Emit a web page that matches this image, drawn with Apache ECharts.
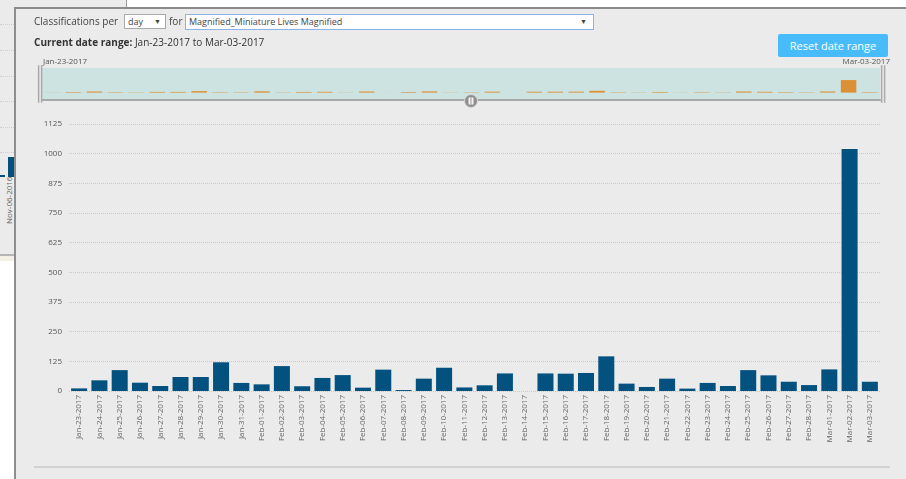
<!DOCTYPE html>
<html>
<head>
<meta charset="utf-8">
<script src="https://cdn.jsdelivr.net/npm/echarts@6/dist/echarts.min.js"></script>
<style>
body{margin:0;width:906px;height:479px;overflow:hidden;background:#fff;position:relative;font-family:"Open Sans",sans-serif;color:#444}
.abs{position:absolute}
#oldPanel{left:0;top:0;width:126px;height:254px;background:#ebebeb;border-right:1px solid #9a9a9a;border-bottom:2px solid #b5b5b5}
.oldLine{left:0;width:14px;height:0;border-top:1px dotted #cfcfcf}
#panel{left:14px;top:7px;width:900px;height:480px;background:#ebebeb;border-left:2px solid #8e8e8e;border-top:2px solid #8a8a8a}
.txt{font-size:11px;white-space:nowrap;transform:scaleX(0.91);transform-origin:left center}
.sel{background:#fff;border:1px solid #a9a9a9;font-size:9px;line-height:13px;padding-left:3px;box-sizing:border-box}
#chart{left:0;top:0;width:906px;height:479px}
#bottomRule{left:34px;top:466px;width:856px;height:0;border-top:2px solid #d2d2d2}
#oldLabel{left:4px;top:224px;font-size:8px;line-height:10px;color:#666;white-space:nowrap;transform:rotate(-90deg);transform-origin:left top}
</style>
</head>
<body>
<div id="oldPanel" class="abs"></div>
<div class="abs oldLine" style="top:24px"></div>
<div class="abs oldLine" style="top:50px"></div>
<div class="abs oldLine" style="top:76px"></div>
<div class="abs oldLine" style="top:101px"></div>
<div class="abs oldLine" style="top:127px"></div>
<div class="abs oldLine" style="top:152px"></div>
<div class="abs" style="left:0;top:175px;width:5px;height:2px;background:#03507f"></div>
<div class="abs" style="left:8px;top:157px;width:6px;height:20px;background:#03507f"></div>
<div id="oldLabel" class="abs">Nov-06-2016</div>
<div class="abs" style="left:0;top:256px;width:14px;height:5px;background:#f4f1e4"></div>

<div id="panel" class="abs"></div>
<div id="bottomRule" class="abs"></div>
<div id="chart" class="abs"></div>

<div class="abs txt" style="left:34px;top:13px">Classifications per</div>
<div class="abs sel" style="left:124px;top:14px;width:42px;height:15px">day<span style="position:absolute;right:4px;top:0;font-size:7px">&#9660;</span></div>
<div class="abs txt" style="left:169px;top:13px">for</div>
<div class="abs sel" style="left:185px;top:14px;width:409px;height:16px;border-color:#8fb2e6">Magnified_Miniature Lives Magnified<span style="position:absolute;right:6px;top:0;font-size:7px">&#9660;</span></div>
<div class="abs txt" style="left:34px;top:34px;color:#333"><b>Current date range:</b> Jan-23-2017 to Mar-03-2017</div>
<div class="abs" style="left:778px;top:34px;width:110px;height:23px;background:#48bcfb;border-radius:2px;color:#fff;font-size:11px;line-height:23px;text-align:center">Reset date range</div>

<script>
// days shown in the current range
var dates = ['Jan-23-2017', 'Jan-24-2017', 'Jan-25-2017', 'Jan-26-2017', 'Jan-27-2017', 'Jan-28-2017', 'Jan-29-2017', 'Jan-30-2017', 'Jan-31-2017',
	'Feb-01-2017', 'Feb-02-2017', 'Feb-03-2017', 'Feb-04-2017', 'Feb-05-2017', 'Feb-06-2017', 'Feb-07-2017', 'Feb-08-2017', 'Feb-09-2017', 'Feb-10-2017',
	'Feb-11-2017', 'Feb-12-2017', 'Feb-13-2017', 'Feb-14-2017', 'Feb-15-2017', 'Feb-16-2017', 'Feb-17-2017', 'Feb-18-2017', 'Feb-19-2017', 'Feb-20-2017',
	'Feb-21-2017', 'Feb-22-2017', 'Feb-23-2017', 'Feb-24-2017', 'Feb-25-2017', 'Feb-26-2017', 'Feb-27-2017', 'Feb-28-2017',
	'Mar-01-2017', 'Mar-02-2017', 'Mar-03-2017'];

// classifications per day
var counts = [11, 45, 88, 35, 21, 59, 59, 121, 34,
	28, 105, 20, 55, 67, 14, 90, 4, 52, 98,
	15, 24, 74, 0, 74, 73, 76, 146, 31, 17,
	52, 10, 34, 21, 88, 66, 39, 25,
	91, 1020, 39];

// y axis
var yMin = 0;
var yMax = 1125;
var yStep = 125;

var myChart = echarts.init(document.getElementById('chart'));

var option = {
	animation : false,
	textStyle : { fontFamily : 'Open Sans' },
	grid : [ {
		left : 69, right : 26, top : 124, bottom : 88
	}, {
		left : 42, right : 26, top : 68, height : 32,
		show : true, backgroundColor : '#cde3e1', borderWidth : 0
	} ],
	xAxis : [ {
		type : 'category',
		gridIndex : 0,
		data : dates,
		axisLine : { show : false },
		axisTick : { show : false },
		axisLabel : {
			rotate : 90, interval : 0, fontSize : 8, color : '#666', margin : 4
		}
	}, {
		type : 'category',
		gridIndex : 1,
		data : dates,
		axisLine : { onZero : false, lineStyle : { color : '#a8a8a8', width : 2 } },
		axisTick : { show : false },
		axisLabel : { show : false }
	} ],
	yAxis : [ {
		type : 'value',
		gridIndex : 0,
		min : yMin, max : yMax, interval : yStep,
		axisLine : { show : false },
		axisTick : { show : false },
		axisLabel : {
			fontSize : 8, color : '#555', margin : 7, padding : [0, 0, 7, 0],
			formatter : function(v) { return String(v); }
		},
		splitLine : { lineStyle : { type : 'dotted', color : '#c9c9c9' } }
	}, {
		type : 'value',
		gridIndex : 1,
		min : -600, max : 2000,
		show : false,
		splitLine : { show : false }
	} ],
	dataZoom : [ {
		type : 'slider',
		xAxisIndex : [0, 1],
		start : 0, end : 100,
		left : 39, right : 22, top : 67, height : 34,
		showDataShadow : false,
		showDetail : false,
		brushSelect : false,
		moveHandleSize : 0,
		backgroundColor : 'rgba(0,0,0,0)',
		borderColor : 'rgba(0,0,0,0)',
		fillerColor : 'rgba(0,0,0,0)',
		handleIcon : 'path://M0,0H2V50H0Z M4,0H6V50H4Z',
		handleSize : '110%',
		handleStyle : { color : '#a9a9a9', borderColor : '#a9a9a9', borderWidth : 0 }
	} ],
	graphic : [ {
		type : 'text', left : 43, top : 58, z : 10,
		style : { text : dates[0], fontSize : 8, fill : '#555', fontFamily : 'Open Sans' }
	}, {
		type : 'text', right : 16, top : 58, z : 10,
		style : { text : dates[dates.length - 1], fontSize : 8, fill : '#555', fontFamily : 'Open Sans' }
	}, {
		type : 'circle', z : 10,
		shape : { cx : 471, cy : 101, r : 6.5 },
		style : { fill : '#8f8f8f', stroke : '#d9d9d9', lineWidth : 1 }
	}, {
		type : 'rect', z : 11,
		shape : { x : 468.5, y : 97.5, width : 5, height : 7 },
		style : { fill : '#f2f2f2' }
	}, {
		type : 'rect', z : 12,
		shape : { x : 470.5, y : 97.5, width : 1, height : 7 },
		style : { fill : '#9a9a9a' }
	} ],
	series : [ {
		name : 'Classifications',
		type : 'bar',
		xAxisIndex : 0, yAxisIndex : 0,
		data : counts,
		barCategoryGap : '21%',
		itemStyle : { color : '#03517f' }
	}, {
		name : 'Overview',
		type : 'bar',
		xAxisIndex : 1, yAxisIndex : 1,
		data : counts,
		barCategoryGap : '26%',
		itemStyle : { color : '#dc9035' }
	} ]
};
myChart.setOption(option);
</script>
</body>
</html>
